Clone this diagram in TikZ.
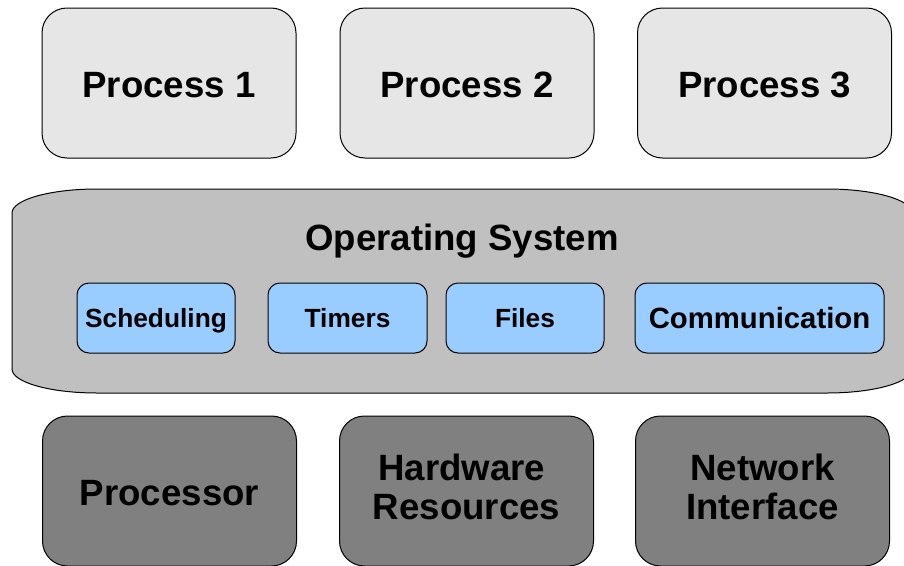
\documentclass[tikz,border=0pt]{standalone}
\usepackage{fontspec}
\setmainfont{Liberation Sans}
\definecolor{procfill}{HTML}{E6E6E6}
\definecolor{osfill}{HTML}{C0C0C0}
\definecolor{subfill}{HTML}{99CCFF}
\definecolor{hwfill}{HTML}{808080}
\begin{document}
\begin{tikzpicture}[x=1pt,y=-1pt,
  bigbox/.style={draw=black, line width=1pt, rounded corners=25pt,
    minimum width=254pt, minimum height=150pt, inner sep=0pt,
    font=\fontsize{36.6}{38}\selectfont\bfseries, text height=28pt, text depth=0pt},
  procbox/.style={bigbox, fill=procfill},
  hwbox/.style={bigbox, fill=hwfill},
  twoline/.style={align=center, font=\fontsize{36.6}{38.5}\selectfont\bfseries,
    text height=56pt, text depth=0pt},
  subbox/.style={draw=black, line width=1pt, fill=subfill, rounded corners=12pt,
    minimum height=70pt, inner sep=0pt,
    font=\fontsize{26.3}{28}\selectfont\bfseries, text height=19pt, text depth=0pt},
  ostitle/.style={inner sep=0pt, font=\fontsize{36.6}{38}\selectfont\bfseries,
    text height=28pt, text depth=0pt}
]
\useasboundingbox (0,0) rectangle (904,565);
\fill[white] (0,0) rectangle (904,565);
\clip (0,0) rectangle (904,565);

% user processes
\node[procbox] (p1) at (169,83)   {Process 1};
\node[procbox] (p2) at (467,83)   {Process 2};
\node[procbox] (p3) at (764.5,83) {Process 3};

% operating system layer
\draw[line width=1pt, fill=osfill]
  (12,213) .. controls (12,199.7) and (50.1,189) .. (97,189)
  -- (827,189) .. controls (873.9,189) and (912,199.7) .. (912,213)
  -- (912,369) .. controls (912,382.3) and (873.9,393) .. (827,393)
  -- (97,393) .. controls (50.1,393) and (12,382.3) .. (12,369)
  -- cycle;
\node[ostitle] (os) at (462,236.5) {Operating System};

\node[subbox, minimum width=158pt] (sched) at (156,318)   {Scheduling};
\node[subbox, minimum width=159pt] (timer) at (347.5,318) {Timers};
\node[subbox, minimum width=158pt] (files) at (525,318)   {Files};
\node[subbox, minimum width=249pt, font=\fontsize{29.3}{31}\selectfont\bfseries,
      text height=21pt] (comm) at (759.5,318) {Communication};

% hardware layer
\node[hwbox] (cpu) at (169.5,491) {Processor};
\node[hwbox, twoline] (hw) at (466.5,491) {Hardware\kern.25em\\Resources};
\node[hwbox, twoline] (net) at (762.5,491) {Network\\Interface};
\end{tikzpicture}
\end{document}
